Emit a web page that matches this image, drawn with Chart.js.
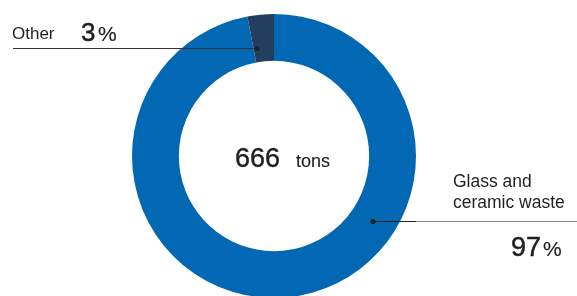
<!DOCTYPE html>
<html><head><meta charset="utf-8">
<script src="https://cdn.jsdelivr.net/npm/chart.js@4"></script>
<style>
html,body{margin:0;padding:0;width:577px;height:296px;overflow:hidden;background:#fff;}
#wrap{position:absolute;left:0;top:0;width:577px;height:312px;}
</style></head><body>
<div id="wrap"><canvas id="c" width="577" height="312"></canvas></div>
<script>
const categories = ["Glass and ceramic waste", "Other"];
const shares = [97, 3];
const colors = ["#0368b3", "#243f5e"];
const totalValue = "666";
const totalUnit = "tons";

const F = "'Liberation Sans', Arial, sans-serif";
const TXT = "#231f20";

function heavyText(ctx, s, x, y, w) {
  ctx.fillText(s, x, y);
  if (w > 0) {
    ctx.lineWidth = w;
    ctx.strokeStyle = TXT;
    ctx.strokeText(s, x, y);
  }
}

const labelPlugin = {
  id: "labels",
  afterDraw(chart) {
    const ctx = chart.ctx;
    ctx.save();
    ctx.fillStyle = TXT;
    ctx.textBaseline = "alphabetic";
    ctx.textAlign = "left";
    ctx.lineJoin = "round";
    // center total
    ctx.font = "27px " + F;
    heavyText(ctx, totalValue, 235, 167, 0.4);
    ctx.font = "18px " + F;
    heavyText(ctx, totalUnit, 296, 167, 0.15);

    // Other label
    ctx.font = "17px " + F;
    heavyText(ctx, categories[1], 12, 39, 0);
    ctx.font = "26px " + F;
    heavyText(ctx, String(shares[1]), 81, 41, 0.5);
    ctx.font = "21px " + F;
    heavyText(ctx, "%", 98, 41, 0.2);
    ctx.strokeStyle = "#333";
    ctx.lineWidth = 1.2;
    ctx.beginPath(); ctx.moveTo(13, 48.5); ctx.lineTo(257, 48.5); ctx.stroke();
    ctx.fillStyle = "#222";
    ctx.beginPath(); ctx.arc(257, 48.5, 2.6, 0, Math.PI*2); ctx.fill();

    // Glass label
    ctx.fillStyle = TXT;
    ctx.font = "17.5px " + F;
    heavyText(ctx, "Glass and", 453, 187, 0);
    heavyText(ctx, "ceramic waste", 453, 208, 0);
    ctx.font = "27px " + F;
    heavyText(ctx, String(shares[0]), 511, 256, 0.5);
    ctx.font = "21px " + F;
    heavyText(ctx, "%", 543, 256, 0.2);
    ctx.lineWidth = 1.2;
    ctx.strokeStyle = "#222";
    ctx.beginPath(); ctx.moveTo(373, 221.5); ctx.lineTo(416, 221.5); ctx.stroke();
    ctx.strokeStyle = "#888";
    ctx.beginPath(); ctx.moveTo(416, 221.5); ctx.lineTo(577, 221.5); ctx.stroke();
    ctx.fillStyle = "#222";
    ctx.beginPath(); ctx.arc(373, 221.5, 2.6, 0, Math.PI*2); ctx.fill();
    ctx.restore();
  }
};

new Chart(document.getElementById("c"), {
  type: "doughnut",
  data: {
    labels: categories,
    datasets: [{ data: shares, backgroundColor: colors, borderWidth: 0 }]
  },
  options: {
    responsive: false,
    animation: false,
    cutout: "67%",
    layout: { padding: { left: 132, right: 161, top: 14, bottom: 14 } },
    plugins: { legend: { display: false }, tooltip: { enabled: false } }
  },
  plugins: [labelPlugin]
});
</script>
</body></html>
